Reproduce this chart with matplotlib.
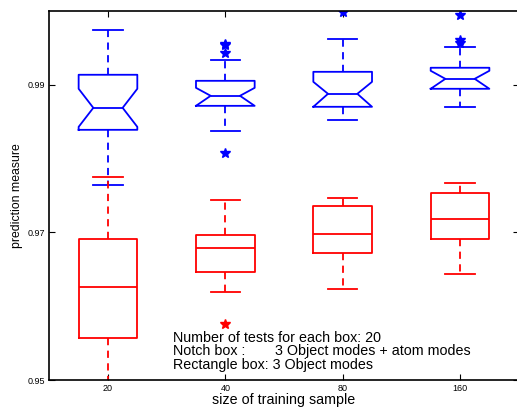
import matplotlib.pyplot as plt
import numpy as np

plt.rcParams['font.family'] = ['Liberation Sans', 'DejaVu Sans']

sizes = ['20', '40', '80', '160']

# notched boxes: 3 object modes + atom modes
notch_whislo = [0.97644, 0.98376, 0.98525, 0.98702]
notch_q1 = [0.98390, 0.98715, 0.98702, 0.98946]
notch_cilo = [0.98430, 0.98715, 0.98702, 0.98946]
notch_med = [0.98688, 0.98851, 0.98878, 0.99081]
notch_cihi = [0.98946, 0.98959, 0.99040, 0.99190]
notch_q3 = [0.99136, 0.99054, 0.99176, 0.99231]
notch_whishi = [0.99746, 0.99339, 0.99624, 0.99515]
notch_out = [[], [0.99550, 0.99540, 0.99434, 0.98078], [0.99990], [0.99949, 0.99610, 0.99569]]

# rectangle boxes: 3 object modes
rect_whislo = [0.9480, 0.96193, 0.96234, 0.96437]
rect_q1 = [0.95569, 0.96464, 0.96722, 0.96912]
rect_med = [0.96261, 0.96790, 0.96980, 0.97183]
rect_q3 = [0.96912, 0.96966, 0.97359, 0.97536]
rect_whishi = [0.97753, 0.97441, 0.97468, 0.97671]
rect_out = [[], [0.95759], [], []]

def make_stats(lo, q1, med, q3, hi, out, cilo=None, cihi=None):
    stats = []
    for i in range(len(med)):
        s = dict(whislo=lo[i], q1=q1[i], med=med[i], q3=q3[i], whishi=hi[i],
                 fliers=np.array(out[i]))
        if cilo is not None:
            s['cilo'] = cilo[i]
            s['cihi'] = cihi[i]
        stats.append(s)
    return stats

def style(c):
    return dict(
        boxprops=dict(color=c, lw=1.3),
        medianprops=dict(color=c, lw=1.3),
        whiskerprops=dict(color=c, lw=1.3, linestyle=(0, (4, 3))),
        capprops=dict(color=c, lw=1.3),
        flierprops=dict(marker='*', markersize=7.5, markerfacecolor=c,
                        markeredgecolor=c, linestyle='none'),
    )

pos = np.arange(1, len(sizes) + 1)

fig = plt.figure(figsize=(5.17, 4.07), dpi=100)
ax = fig.add_axes([49.3 / 517, 27 / 407, 469.4 / 517, 369 / 407])

ax.bxp(make_stats(notch_whislo, notch_q1, notch_med, notch_q3, notch_whishi,
                  notch_out, notch_cilo, notch_cihi),
       positions=pos, widths=0.5, capwidths=0.25, shownotches=True,
       **style('#0000ff'))
ax.bxp(make_stats(rect_whislo, rect_q1, rect_med, rect_q3, rect_whishi, rect_out),
       positions=pos, widths=0.5, capwidths=0.25, **style('#ff0000'))

ax.set_xlim(0.5, 4.5)
ax.set_ylim(0.95, 1.0)
ax.set_xticks(pos)
ax.set_xticklabels(sizes)
ax.set_yticks([0.95, 0.97, 0.99])
ax.set_yticklabels(['0.95', '0.97', '0.99'])
ax.tick_params(direction='in', length=4, width=0.8, labelsize=6.5,
               top=True, right=True)
ax.tick_params(axis='y', pad=3)
ax.tick_params(axis='x', pad=3)
for sp in ax.spines.values():
    sp.set_linewidth(1.2)

ax.set_xlabel('size of training sample', fontsize=10.3)
ax.set_ylabel('prediction measure', fontsize=8.8)
ax.xaxis.set_label_coords(0.5, -0.034)
ax.yaxis.set_label_coords(-0.056, 0.5)

ax.text(1.555, 0.95515, 'Number of tests for each box: 20', fontsize=10.3, va='baseline')
ax.text(1.555, 0.95339, 'Notch box :', fontsize=10.3, va='baseline')
ax.text(2.424, 0.95339, '3 Object modes + atom modes', fontsize=10.3, va='baseline')
ax.text(1.555, 0.95149, 'Rectangle box: 3 Object modes', fontsize=10.3, va='baseline')

fig.savefig('out.png', dpi=100)
